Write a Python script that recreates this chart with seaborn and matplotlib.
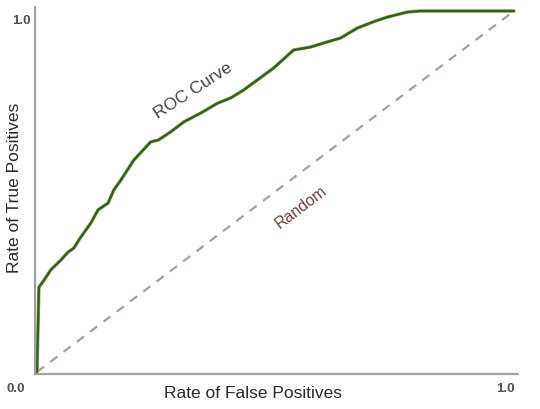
import matplotlib
matplotlib.use("Agg")
import matplotlib.pyplot as plt
import seaborn as sns
import pandas as pd

# ROC curve values
fpr = [0.0, 0.004, 0.015, 0.029, 0.050, 0.065, 0.077, 0.092, 0.113, 0.128, 0.149,
       0.161, 0.176, 0.203, 0.238, 0.255, 0.280, 0.308, 0.343, 0.379, 0.406, 0.433,
       0.462, 0.496, 0.538, 0.573, 0.600, 0.636, 0.672, 0.705, 0.734, 0.776, 0.803, 1.0]
tpr = [0.0, 0.235, 0.255, 0.283, 0.310, 0.332, 0.343, 0.374, 0.413, 0.449, 0.468,
       0.504, 0.532, 0.587, 0.637, 0.643, 0.665, 0.693, 0.717, 0.745, 0.759, 0.781,
       0.809, 0.842, 0.892, 0.900, 0.911, 0.925, 0.953, 0.970, 0.983, 0.997, 1.0, 1.0]
rand_x = [0.0, 1.0]
rand_y = [0.0, 1.0]

sns.set_style("white")
plt.rcParams['font.family'] = ['Liberation Sans', 'DejaVu Sans']

fig = plt.figure(figsize=(5.4, 4.09), dpi=100)
W, H = 540, 409
ax = fig.add_axes([35 / W, 1 - 374 / H, (518 - 35) / W, (374 - 7) / H])

roc = pd.DataFrame({"fpr": fpr, "tpr": tpr})
rnd = pd.DataFrame({"x": rand_x, "y": rand_y})

sns.lineplot(data=rnd, x="x", y="y", ax=ax, color="#b09a9a", lw=1.6,
             linestyle=(0, (4, 3.5)), sort=False)
sns.lineplot(data=roc, x="fpr", y="tpr", ax=ax, color="#8fbf4a", lw=2.5, sort=False)
sns.lineplot(data=roc, x="fpr", y="tpr", ax=ax, color="#3a5a2c", lw=1.7, sort=False)

ax.set_xlim(-2 / 478, 1 + 4 / 478)
ax.set_ylim(-2 / 361, 1 + 4 / 361)
ax.set_xticks([])
ax.set_yticks([])
ax.set_xlabel("")
ax.set_ylabel("")
for s in ["top", "right"]:
    ax.spines[s].set_visible(False)
for s in ["left", "bottom"]:
    ax.spines[s].set_color("#a0a0a0")
    ax.spines[s].set_linewidth(1.6)

# annotations
ax.text(0.328, 0.78, "ROC Curve", rotation=33, ha="center", va="center",
        fontsize=12.5, color="#444444")
ax.text(0.554, 0.455, "Random", rotation=37, ha="center", va="center",
        fontsize=11.5, color="#6e3f42")

# axis labels and end tick labels
fig.text(253 / W, 1 - 394 / H, "Rate of False Positives", ha="center", va="center",
         fontsize=12.5, color="#2a2a2a")
fig.text(15 / W, 1 - 188 / H, "Rate of True Positives", ha="center", va="center",
         rotation=90, fontsize=12.5, color="#2a2a2a")
fig.text(21 / W, 1 - 21 / H, "1.0", ha="center", va="center", fontsize=9.5,
         color="#505050", fontweight="semibold")
fig.text(16 / W, 1 - 389 / H, "0.0", ha="center", va="center", fontsize=9.5,
         color="#505050", fontweight="semibold")
fig.text(505 / W, 1 - 389 / H, "1.0", ha="center", va="center", fontsize=9.5,
         color="#505050", fontweight="semibold")

fig.savefig("out.png", dpi=100)
